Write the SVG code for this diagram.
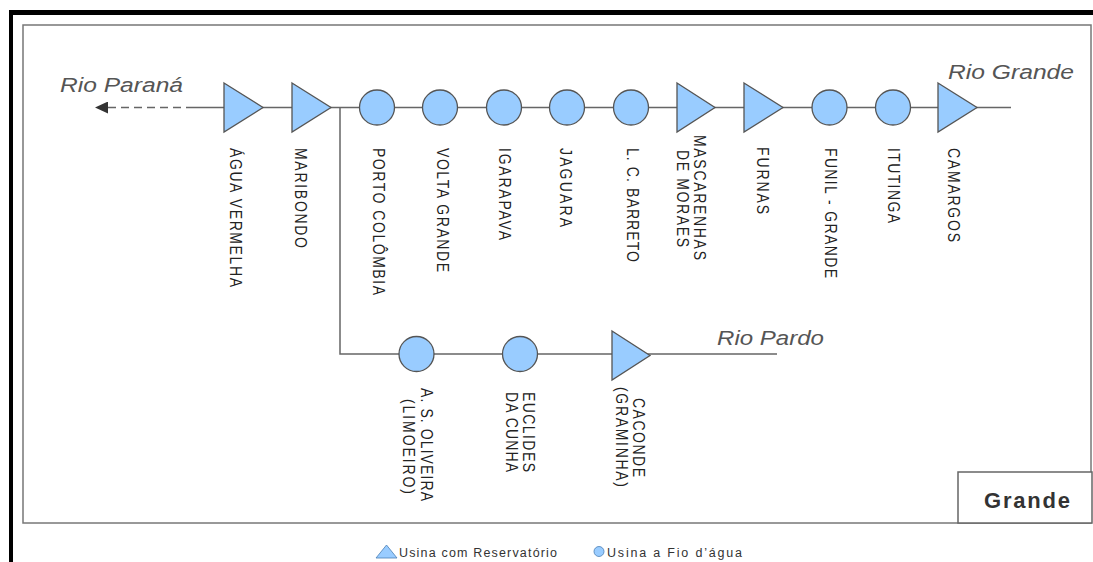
<svg xmlns="http://www.w3.org/2000/svg" width="1093" height="562" viewBox="0 0 1093 562">
<style>
.lbl{font-family:"Liberation Sans",Arial,sans-serif;font-size:14px;fill:#222}
.rio{font-family:"Liberation Sans",Arial,sans-serif;font-size:20px;font-style:italic;fill:#555}
.leg{font-family:"Liberation Sans",Arial,sans-serif;font-size:12.5px;fill:#333}
.res{fill:#99CCFF;stroke:#555;stroke-width:1.3}
.fio{fill:#99CCFF;stroke:#555;stroke-width:1.3}
.ln{stroke:#666;stroke-width:1.5;fill:none}
</style>
<defs>
<marker id="arr" markerWidth="14" markerHeight="12" refX="13" refY="6" orient="auto" markerUnits="userSpaceOnUse">
<path d="M13,0 L0,6 L13,12 Z" fill="#333"/>
</marker>
</defs>
<rect width="1093" height="562" fill="#fff"/>
<g id="frame">
<rect x="9" y="10" width="1084" height="5" fill="#000"/>
<rect x="9" y="10" width="4" height="552" fill="#000"/>
<rect x="23" y="25" width="1068" height="498" fill="none" stroke="#777" stroke-width="1.5"/>
</g>
<g id="connectors">
<line class="ln" x1="108" y1="107.5" x2="190" y2="107.5" stroke-dasharray="8,5" marker-start="url(#arr)"/>
<line class="ln" x1="190" y1="107.5" x2="1011" y2="107.5"/>
<polyline class="ln" points="340,107.5 340,354 777,354"/>
</g>
<g id="rio-parana"><text class="rio" x="60" y="92" textLength="123" lengthAdjust="spacingAndGlyphs">Rio Paraná</text></g>
<g id="rio-grande"><text class="rio" x="948" y="79" textLength="126" lengthAdjust="spacingAndGlyphs">Rio Grande</text></g>
<g id="rio-pardo"><text class="rio" x="717" y="345" textLength="107" lengthAdjust="spacingAndGlyphs">Rio Pardo</text></g>

<g id="agua-vermelha">
<polygon class="res" points="224,83 263,107.5 224,132"/>
<text class="lbl" transform="translate(230 148) rotate(90) scale(1 1.12)" textLength="139">ÁGUA VERMELHA</text>
</g>
<g id="maribondo">
<polygon class="res" points="292,83 331,107.5 292,132"/>
<text class="lbl" transform="translate(295 148) rotate(90) scale(1 1.12)" textLength="100">MARIBONDO</text>
</g>
<g id="porto-colombia">
<circle class="fio" cx="377" cy="107.5" r="17.5"/>
<text class="lbl" transform="translate(373 148) rotate(90) scale(1 1.12)" textLength="147">PORTO COLÔMBIA</text>
</g>
<g id="volta-grande">
<circle class="fio" cx="440" cy="107.5" r="17.5"/>
<text class="lbl" transform="translate(437 148) rotate(90) scale(1 1.12)" textLength="124">VOLTA GRANDE</text>
</g>
<g id="igarapava">
<circle class="fio" cx="504" cy="107.5" r="17.5"/>
<text class="lbl" transform="translate(499 148) rotate(90) scale(1 1.12)" textLength="92">IGARAPAVA</text>
</g>
<g id="jaguara">
<circle class="fio" cx="567" cy="107.5" r="17.5"/>
<text class="lbl" transform="translate(560 148) rotate(90) scale(1 1.12)" textLength="79">JAGUARA</text>
</g>
<g id="lc-barreto">
<circle class="fio" cx="631" cy="107.5" r="17.5"/>
<text class="lbl" transform="translate(627 148) rotate(90) scale(1 1.12)" textLength="114">L. C. BARRETO</text>
</g>
<g id="mascarenhas">
<polygon class="res" points="677,83 715,107.5 677,132"/>
<text class="lbl" transform="translate(694 135) rotate(90) scale(1 1.12)" textLength="125">MASCARENHAS</text>
<text class="lbl" transform="translate(677 150) rotate(90) scale(1 1.12)" textLength="97">DE MORAES</text>
</g>
<g id="furnas">
<polygon class="res" points="744,83 783,107.5 744,132"/>
<text class="lbl" transform="translate(757 147) rotate(90) scale(1 1.12)" textLength="67">FURNAS</text>
</g>
<g id="funil-grande">
<circle class="fio" cx="829.5" cy="107.5" r="17.5"/>
<text class="lbl" transform="translate(825 148) rotate(90) scale(1 1.12)" textLength="130">FUNIL - GRANDE</text>
</g>
<g id="itutinga">
<circle class="fio" cx="893" cy="107.5" r="17.5"/>
<text class="lbl" transform="translate(888 148) rotate(90) scale(1 1.12)" textLength="75">ITUTINGA</text>
</g>
<g id="camargos">
<polygon class="res" points="938,83 977,107.5 938,132"/>
<text class="lbl" transform="translate(948 148) rotate(90) scale(1 1.12)" textLength="94">CAMARGOS</text>
</g>

<g id="as-oliveira">
<circle class="fio" cx="416.5" cy="354" r="17.5"/>
<text class="lbl" transform="translate(421 388) rotate(90) scale(1 1.12)" textLength="113">A. S. OLIVEIRA</text>
<text class="lbl" transform="translate(403 399) rotate(90) scale(1 1.12)" textLength="95">(LIMOEIRO)</text>
</g>
<g id="euclides-da-cunha">
<circle class="fio" cx="520" cy="354" r="17.5"/>
<text class="lbl" transform="translate(523 392) rotate(90) scale(1 1.12)" textLength="80">EUCLIDES</text>
<text class="lbl" transform="translate(506 392) rotate(90) scale(1 1.12)" textLength="80">DA CUNHA</text>
</g>
<g id="caconde">
<polygon class="res" points="612,331 650,355.5 612,380"/>
<text class="lbl" transform="translate(633 398) rotate(90) scale(1 1.12)" textLength="79">CACONDE</text>
<text class="lbl" transform="translate(616 387) rotate(90) scale(1 1.12)" textLength="100">(GRAMINHA)</text>
</g>

<g id="grande-box">
<rect x="958" y="472" width="134" height="51" fill="#fff" stroke="#666" stroke-width="1.5"/>
<text x="1027" y="508" text-anchor="middle" font-family="Liberation Sans, Arial, sans-serif" font-size="22" font-weight="bold" fill="#333" textLength="86">Grande</text>
</g>

<g id="legend">
<polygon points="376,558 397,558 386.5,545" fill="#99CCFF" stroke="#4a7fb5" stroke-width="0.8"/>
<text class="leg" x="399" y="557" textLength="158">Usina com Reservatório</text>
<circle cx="599" cy="551.5" r="5" fill="#99CCFF" stroke="#4a7fb5" stroke-width="0.8"/>
<text class="leg" x="607" y="557" textLength="135">Usina a Fio d’água</text>
</g>
</svg>
